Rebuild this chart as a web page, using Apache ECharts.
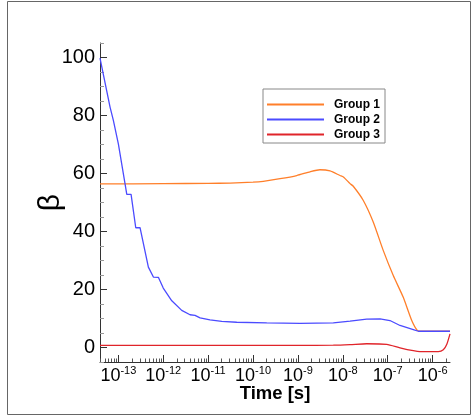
<!DOCTYPE html>
<html>
<head>
<meta charset="utf-8">
<script src="https://cdn.jsdelivr.net/npm/echarts@6/dist/echarts.min.js"></script>
<style>
  html, body { margin: 0; padding: 0; background: #fff; }
  #chart { width: 471px; height: 416px; }
</style>
</head>
<body>
<div id="chart"></div>
<script>
// time in seconds, beta values
const group1Time = [3.9e-14, 1e-12, 1e-11, 3.08e-11, 1e-10, 1.69e-10, 4.0e-10, 9.4e-10, 1.86e-9, 3.1e-9, 5.19e-9, 8.67e-9, 1.03e-8, 1.45e-8, 1.71e-8, 2.86e-8, 4.78e-8, 7.98e-8, 1.33e-7, 2.22e-7, 3.43e-7, 4.56e-7, 5.6e-7, 2.44e-6];
const group1Beta = [56.4, 56.5, 56.6, 56.7, 57.0, 57.3, 58.2, 59.3, 60.6, 61.3, 60.9, 59.3, 58.8, 56.5, 55.6, 50.7, 43.2, 33.4, 24.8, 17.3, 9.3, 5.9, 5.6, 5.6];

const group2Time = [3.9e-14, 6.53e-14, 7.74e-14, 1e-13, 1.41e-13, 1.54e-13, 1.92e-13, 2.44e-13, 3.04e-13, 4.66e-13, 6.03e-13, 7.78e-13, 1e-12, 1.55e-12, 2.58e-12, 3.95e-12, 5.1e-12, 6.61e-12, 1.1e-11, 2.01e-11, 4.34e-11, 2.02e-10, 1.11e-9, 6.14e-9, 1.45e-8, 3.4e-8, 6.75e-8, 1.12e-7, 1.88e-7, 3.72e-7, 4.81e-7, 2.44e-6];
const group2Beta = [99.8, 82.9, 78.3, 70.2, 56.4, 52.8, 52.8, 41.3, 41.3, 27.7, 24.3, 24.2, 20.5, 16.1, 12.8, 11.3, 11.1, 10.2, 9.5, 9.0, 8.7, 8.5, 8.3, 8.5, 9.1, 9.8, 9.9, 9.3, 7.6, 6.2, 5.6, 5.6];

const group3Time = [3.9e-14, 1e-11, 1e-9, 6.14e-9, 1.45e-8, 3.4e-8, 9.5e-8, 1.88e-7, 3.72e-7, 5.24e-7, 1.34e-6, 1.73e-6, 2.06e-6, 2.44e-6];
const group3Beta = [0.7, 0.7, 0.7, 0.8, 1.0, 1.3, 1.1, -0.1, -1.1, -1.4, -1.4, -0.8, 1.0, 4.7];

const seriesNames = ['Group 1', 'Group 2', 'Group 3'];
const seriesColors = ['#FF7F2A', '#4B4BFF', '#E0242A'];

const yMajorTicks = [0, 20, 40, 60, 80, 100];
const yMinorTicks = [-5, 5, 10, 15, 25, 30, 35, 45, 50, 55, 65, 70, 75, 85, 90, 95, 105];
const xMajorExp = [-13, -12, -11, -10, -9, -8, -7, -6];

const xMin = 3.9e-14;
const xMax = 2.44e-6;

const xMajorTicks = xMajorExp.map(e => Math.pow(10, e));
const xMinorTicks = [];
for (let e = -14; e <= -6; e++) {
  for (let k = 2; k <= 9; k++) {
    const v = k * Math.pow(10, e);
    if (v >= xMin && v <= xMax) xMinorTicks.push(v);
  }
}

function pairs(t, b) {
  return t.map((v, i) => [v, b[i]]);
}

const font = 'Liberation Sans, Arial, Helvetica, sans-serif';
const axisColor = '#333';

let myChart = echarts.init(document.getElementById('chart'));
let option = {
  animation: false,
  backgroundColor: '#fff',
  grid: {
    left: 100,
    right: 21,
    top: 43,
    bottom: 54,
    outerBoundsMode: 'none'
  },
  graphic: [
    {
      type: 'rect',
      shape: { x: 7.5, y: 1.5, width: 463, height: 413 },
      style: { fill: 'none', stroke: '#666', lineWidth: 1 },
      silent: true
    }
  ],
  legend: {
    orient: 'vertical',
    left: 263,
    top: 89,
    padding: [8, 5, 1, 4],
    itemGap: 0,
    itemWidth: 57,
    itemHeight: 2,
    icon: 'rect',
    borderColor: '#888',
    borderWidth: 1,
    data: seriesNames,
    textStyle: {
      fontFamily: font,
      fontSize: 12,
      fontWeight: 'bold',
      color: '#000',
      lineHeight: 15,
      padding: [0, 0, 0, 5]
    }
  },
  xAxis: [
    {
      type: 'log',
      min: xMin,
      max: xMax,
      name: 'Time [s]',
      nameLocation: 'middle',
      nameGap: 22,
      nameMoveOverlap: false,
      nameTextStyle: { fontFamily: font, fontSize: 18.5, fontWeight: 'bold', color: '#000' },
      axisLine: { onZero: false, lineStyle: { color: axisColor, width: 1 } },
      axisTick: { inside: true, length: 7, customValues: xMajorTicks, lineStyle: { color: axisColor } },
      axisLabel: {
        customValues: xMajorTicks,
        margin: 3,
        formatter: v => '{b|10}{s|' + Math.round(Math.log10(v)) + '}',
        rich: {
          b: { fontFamily: font, fontSize: 18, color: '#000', lineHeight: 22 },
          s: { fontFamily: font, fontSize: 11, color: '#000', lineHeight: 7, verticalAlign: 'top' }
        }
      },
      splitLine: { show: false }
    },
    {
      type: 'log',
      min: xMin,
      max: xMax,
      position: 'bottom',
      axisLine: { show: false, onZero: false },
      axisTick: { inside: true, length: 3.5, customValues: xMinorTicks, lineStyle: { color: '#555' } },
      axisLabel: { show: false },
      splitLine: { show: false }
    }
  ],
  yAxis: [
    {
      type: 'value',
      min: -5,
      max: 105,
      name: 'β',
      nameLocation: 'middle',
      nameGap: 34,
      nameMoveOverlap: false,
      nameTextStyle: { fontFamily: font, fontSize: 30, color: '#000' },
      axisLine: { show: true, onZero: false, lineStyle: { color: axisColor, width: 1 } },
      axisTick: { show: true, inside: true, length: 7, customValues: yMajorTicks, lineStyle: { color: axisColor } },
      axisLabel: { customValues: yMajorTicks, margin: 5, fontFamily: font, fontSize: 20, color: '#000' },
      splitLine: { show: false }
    },
    {
      type: 'value',
      min: -5,
      max: 105,
      position: 'left',
      axisLine: { show: false, onZero: false },
      axisTick: { show: true, inside: true, length: 4, customValues: yMinorTicks, lineStyle: { color: '#999' } },
      axisLabel: { show: false },
      splitLine: { show: false }
    }
  ],
  series: [
    {
      name: seriesNames[0],
      type: 'line',
      data: pairs(group1Time, group1Beta),
      smooth: 0.2,
      showSymbol: false,
      color: seriesColors[0],
      lineStyle: { width: 1.3 }
    },
    {
      name: seriesNames[1],
      type: 'line',
      data: pairs(group2Time, group2Beta),
      showSymbol: false,
      color: seriesColors[1],
      lineStyle: { width: 1.3 }
    },
    {
      name: seriesNames[2],
      type: 'line',
      data: pairs(group3Time, group3Beta),
      smooth: 0.2,
      showSymbol: false,
      color: seriesColors[2],
      lineStyle: { width: 1.3 }
    }
  ]
};
myChart.setOption(option);
</script>
</body>
</html>
